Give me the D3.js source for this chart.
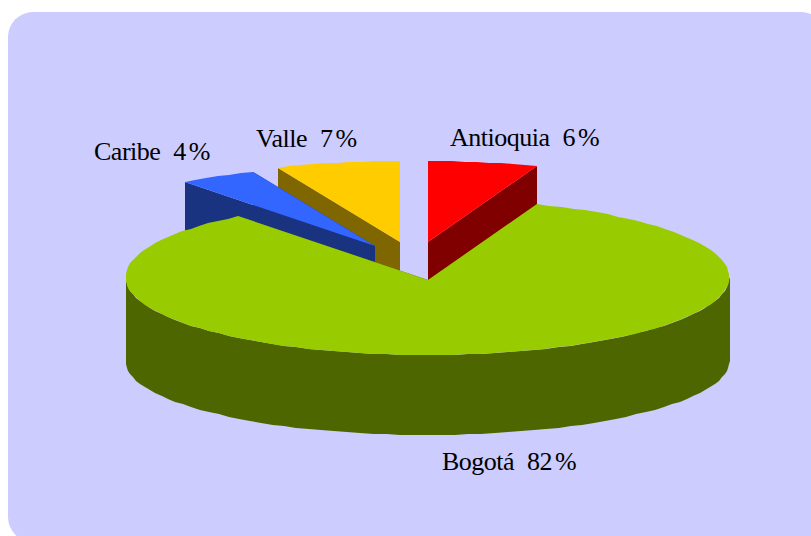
<!DOCTYPE html>
<html><head><meta charset="utf-8">
<script src="https://cdn.jsdelivr.net/npm/d3@7"></script>
<style>html,body{margin:0;padding:0;background:#fff}svg{display:block}</style>
</head><body><svg id="c" width="811" height="536"></svg>
<script>
const categories = ["Antioquia","Bogotá","Caribe","Valle"];
const shares = [5.9,83.3,4.2,6.6];
const labelNames = ["Antioquia 6","Bogotá 82","Caribe 4","Valle 7"];
const topColors = ["#FF0000","#99CC00","#3366FF","#FFCC00"];
const wallColors = ["#800000","#4D6600","#1A3380","#806600"];

const RX=302,RY=78,BOTTOM_RY=74,BOTTOM_DROP=84,CX=427.5,CY=277,APEX_DY=3;
const explode = {Antioquia:[0,-38],"Bogotá":[0,0],Caribe:[-53,-34],Valle:[-28,-38]};
const labelPos = {Antioquia:[450,146],"Bogotá":[442,470],Caribe:[94,160],Valle:[256,147]};
const drawOrder = ["Antioquia","Valle","Caribe","Bogotá"];

const svg=d3.select("#c");
svg.append("rect").attr("x",8).attr("y",12).attr("width",818).attr("height",530).attr("rx",25).attr("fill","#CCCCFF");

const arcs=d3.pie().sort(null).value(d=>d)(shares);
const line=d3.line();
const g=svg.append("g");

function arcPts(a0,a1,ox,oy,ry){
  const n=Math.max(2,Math.ceil((a1-a0)/(Math.PI/70)));
  return d3.range(n+1).map(i=>{
    const a=a0+(a1-a0)*i/n;
    return [Math.round(ox+RX*Math.sin(a)), Math.round(oy-ry*Math.cos(a))];
  });
}
drawOrder.forEach(name=>{
  const i=categories.indexOf(name),d=arcs[i],[dx,dy]=explode[name];
  const ox=CX+dx,oy=CY+dy,top=topColors[i],wall=wallColors[i];
  const apex=[Math.round(ox),oy+APEX_DY],apexB=[apex[0],apex[1]+BOTTOM_DROP];
  const t=arcPts(d.startAngle,d.endAngle,ox,oy,RY);
  const depth=BOTTOM_DROP;
  [t[0],t[t.length-1]].forEach(p=>{
    const q=[apex,p,[p[0],p[1]+depth],apexB];
    g.append("path").attr("d",line(q)+"Z").attr("fill",wall);
  });
  const f0=Math.max(d.startAngle,Math.PI/2),f1=Math.min(d.endAngle,Math.PI*1.5);
  if(f1>f0){
    const ft=arcPts(f0,f1,ox,oy,RY);
    const fb=arcPts(f0,f1,ox,oy+depth,BOTTOM_RY);
    g.append("path").attr("d",line(ft.concat(fb.reverse()))+"Z").attr("fill",wall);
  }
  g.append("path").attr("d",line([apex].concat(t))+"Z").attr("fill",top);
});
categories.forEach((name,i)=>{
  const tx=svg.append("text").attr("x",labelPos[name][0]).attr("y",labelPos[name][1])
    .attr("font-family","'Liberation Serif','Times New Roman',serif").attr("font-size",26)
    .attr("letter-spacing","-0.5px").attr("word-spacing","7px").attr("fill","#000");
  tx.append("tspan").text(labelNames[i]);
  tx.append("tspan").attr("dx",3).text("%");
});
</script></body></html>
